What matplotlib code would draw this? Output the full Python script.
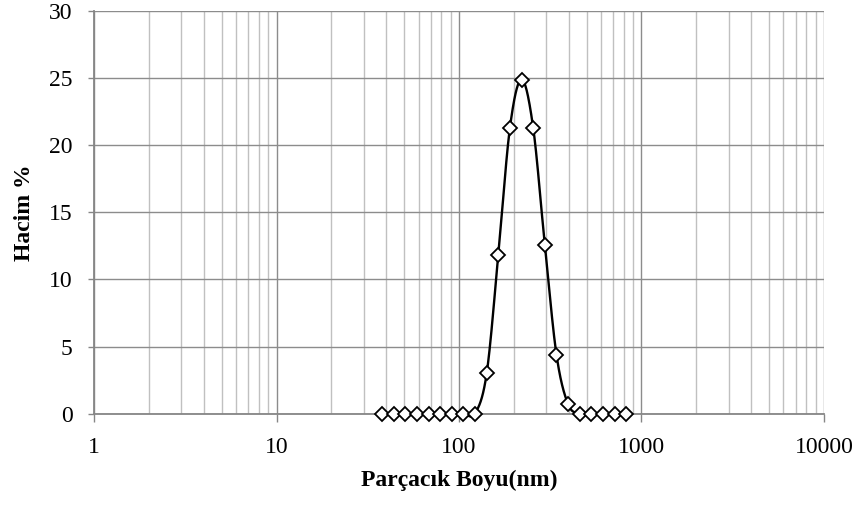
import numpy as np
import matplotlib
matplotlib.use("Agg")
import matplotlib.pyplot as plt
from matplotlib.ticker import FixedLocator, FixedFormatter, NullFormatter

# Data (particle size distribution, volume %)
size_nm = [37.84, 43.82, 50.75, 58.77, 68.06, 78.82, 91.28, 105.7, 122.4,
           141.8, 164.2, 190.1, 220.2, 255.0, 295.3, 342.0, 396.1,
           458.7, 531.2, 615.1, 712.4, 825.0]
volume_pct = [0, 0, 0, 0, 0, 0, 0, 0, 0,
              3.0, 11.8, 21.3, 24.9, 21.3, 12.6, 4.4, 0.7,
              0, 0, 0, 0, 0]
x_ticks = [1, 10, 100, 1000, 10000]
x_tick_labels = ["1", "10", "100", "1000", "10000"]
y_ticks = [0, 5, 10, 15, 20, 25, 30]

plt.rcParams['font.family'] = ['Liberation Serif', 'DejaVu Serif']

fig = plt.figure(figsize=(8.61, 5.05), dpi=100)
ax = fig.add_axes([0.1092, 0.181, 0.957 - 0.1092, 0.978 - 0.181])


def smooth(xs, ys, n=30):
    # Excel-like smoothed line (uniform Catmull-Rom Bezier) in log-x space
    px = np.log10(np.asarray(xs, float))
    py = np.asarray(ys, float)
    P = np.column_stack([px, py])
    P = np.vstack([P[0], P, P[-1]])
    out = []
    t = np.linspace(0, 1, n)[:, None]
    for i in range(1, len(P) - 2):
        p0, p1, p2, p3 = P[i - 1], P[i], P[i + 1], P[i + 2]
        c1 = p1 + (p2 - p0) / 6.0
        c2 = p2 - (p3 - p1) / 6.0
        seg = ((1 - t) ** 3) * p1 + 3 * ((1 - t) ** 2) * t * c1 + 3 * (1 - t) * t ** 2 * c2 + t ** 3 * p2
        out.append(seg if i == 1 else seg[1:])
    S = np.vstack(out)
    return 10 ** S[:, 0], S[:, 1]


sx, sy = smooth(size_nm, volume_pct)
ax.plot(sx, sy, color='black', lw=1.7, zorder=3, clip_on=False)
ax.plot(size_nm, volume_pct, linestyle='none', marker='D', markersize=7.5,
        markerfacecolor='white', markeredgecolor='black', markeredgewidth=1.3,
        zorder=4, clip_on=False)

ax.set_xscale('log')
ax.set_xlim(1, 10000)
ax.set_ylim(0, 30)

ax.xaxis.set_major_locator(FixedLocator(x_ticks))
ax.xaxis.set_major_formatter(FixedFormatter(x_tick_labels))
minors = [m * 10 ** d for d in range(0, 4) for m in range(2, 10)]
ax.xaxis.set_minor_locator(FixedLocator(minors))
ax.xaxis.set_minor_formatter(NullFormatter())
ax.set_yticks(y_ticks)

ax.grid(which='major', axis='both', color='#8c8c8c', lw=1.0, zorder=0)
ax.grid(which='minor', axis='x', color='#c0c0c0', lw=1.0, zorder=0)
ax.set_axisbelow(True)

for s in ['top', 'right']:
    ax.spines[s].set_visible(False)
for s in ['left', 'bottom']:
    ax.spines[s].set_color('#868686')
    ax.spines[s].set_linewidth(1.3)

ax.tick_params(axis='x', which='major', direction='out', length=6, width=1.0,
               color='#868686', pad=11, labelsize=17, labelcolor='black')
ax.tick_params(axis='x', which='minor', length=0)
ax.tick_params(axis='y', which='major', direction='out', length=4.5, width=1.0,
               color='#868686', pad=11, labelsize=17, labelcolor='black')

ax.set_xlabel('Parçacık Boyu(nm)', fontsize=17, fontweight='bold', labelpad=8)
ax.set_ylabel('Hacim %', fontsize=17, fontweight='bold', labelpad=10)

fig.savefig('out.png', dpi=100)
